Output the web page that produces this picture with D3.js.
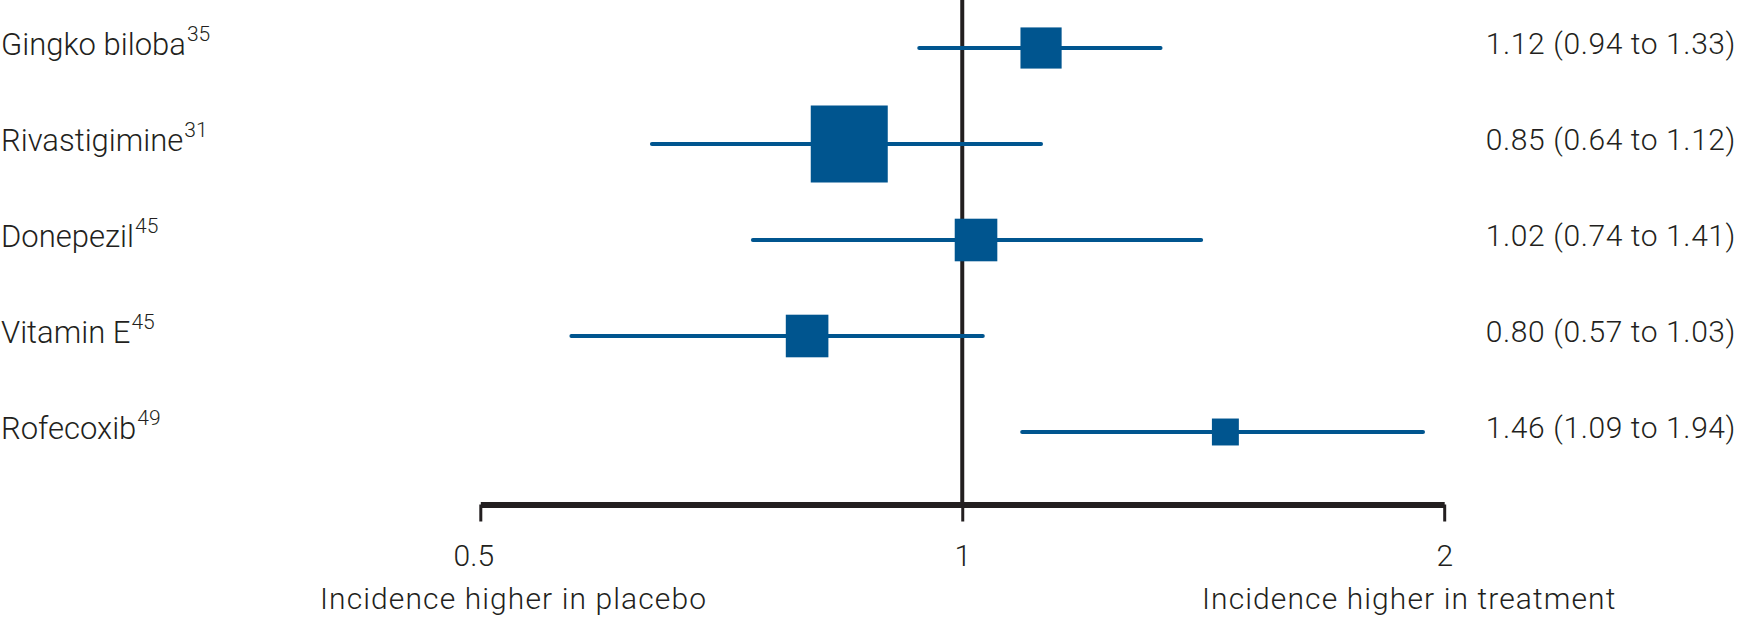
<!DOCTYPE html>
<html>
<head>
<meta charset="utf-8">
<script src="https://cdn.jsdelivr.net/npm/d3@7"></script>
<style>
  html, body { margin: 0; padding: 0; background: #fff; }
  svg { display: block; }
</style>
</head>
<body>
<svg id="chart" viewBox="0 0 1737 618" width="1737" height="618"></svg>
<script>
// data
const treatments = ["Gingko biloba", "Rivastigimine", "Donepezil", "Vitamin E", "Rofecoxib"];
const refs = ["35", "31", "45", "45", "49"];
const estimates = [1.12, 0.85, 1.02, 0.80, 1.46];
const lower = [0.94, 0.64, 0.74, 0.57, 1.09];
const upper = [1.33, 1.12, 1.41, 1.03, 1.94];
const weights = [14, 49, 15, 15, 6]; // relative weight (square area)
const tickValues = [0.5, 1, 2];
const sideLabels = ["Incidence higher in placebo", "Incidence higher in treatment"];

const rows = treatments.map((t, i) => ({
  name: t, ref: refs[i], est: estimates[i], lo: lower[i], hi: upper[i], w: weights[i]
}));

const blue = "#00558f";
const ink = "#231f20";
const labelFont = "Roboto, 'Open Sans', sans-serif";

const svg = d3.select("#chart");

const axisY = 504.5;

const xScale = d3.scaleLog().domain([0.5, 2]).range([480.3, 1444.2]);
const yScale = d3.scalePoint().domain(treatments).range([48, 432]);
const sizeScale = d3.scaleSqrt().domain([0, d3.max(weights)]).range([0, 77]);

// reference line at 1
svg.append("line")
  .attr("x1", xScale(1)).attr("x2", xScale(1))
  .attr("y1", 0).attr("y2", axisY)
  .style("stroke", ink)
  .style("stroke-width", 4);

// confidence intervals
svg.selectAll("line.ci")
  .data(rows)
  .enter()
  .append("line")
  .attr("class", "ci")
  .attr("x1", d => xScale(d.lo))
  .attr("x2", d => xScale(d.hi))
  .attr("y1", d => yScale(d.name))
  .attr("y2", d => yScale(d.name))
  .style("stroke", blue)
  .style("stroke-width", 4)
  .style("stroke-linecap", "round");

// point estimates
svg.selectAll("rect.est")
  .data(rows)
  .enter()
  .append("rect")
  .attr("class", "est")
  .attr("x", d => xScale(d.est) - sizeScale(d.w) / 2)
  .attr("y", d => yScale(d.name) - sizeScale(d.w) / 2)
  .attr("width", d => sizeScale(d.w))
  .attr("height", d => sizeScale(d.w))
  .attr("fill", blue);

// left labels with superscript refs
const names = svg.selectAll("text.name")
  .data(rows)
  .enter()
  .append("text")
  .attr("class", "name")
  .attr("x", 1)
  .attr("y", d => yScale(d.name) + 7)
  .style("font-family", labelFont)
  .style("font-weight", 300)
  .style("font-size", "31px")
  .style("fill", ink);

names.append("tspan").text(d => d.name);
names.append("tspan")
  .attr("dx", 1)
  .attr("dy", -14)
  .style("font-size", "21px")
  .text(d => d.ref);

// right labels
const fmt = d3.format(".2f");
svg.selectAll("text.stat")
  .data(rows)
  .enter()
  .append("text")
  .attr("class", "stat")
  .attr("x", 1736)
  .attr("y", d => yScale(d.name) + 6)
  .style("text-anchor", "end")
  .style("font-family", labelFont)
  .style("font-weight", 300)
  .style("font-size", "30px")
  .style("letter-spacing", "0.6px")
  .style("fill", ink)
  .text(d => `${fmt(d.est)} (${fmt(d.lo)} to ${fmt(d.hi)})`);

// x axis
const xAxis = d3.axisBottom(xScale)
  .tickValues(tickValues)
  .tickFormat(d => d)
  .tickSizeOuter(0)
  .tickSizeInner(17);

const xAxisG = svg.append("g")
  .attr("class", "xAxisG")
  .attr("transform", `translate(0 ${axisY})`)
  .call(xAxis);

xAxisG.select("path.domain")
  .style("stroke", ink)
  .style("stroke-width", 6);
xAxisG.selectAll("line")
  .style("stroke", ink)
  .style("stroke-width", 3);
xAxisG.selectAll("text")
  .attr("y", 61.5)
  .attr("dy", null)
  .attr("dx", (d, i) => (i === 0 ? -7 : 0))
  .style("font-family", labelFont)
  .style("font-weight", 300)
  .style("font-size", "30px")
  .style("fill", ink);

// side captions
svg.selectAll("text.side")
  .data(sideLabels)
  .enter()
  .append("text")
  .attr("class", "side")
  .attr("x", (d, i) => (i === 0 ? 320 : 1202))
  .attr("y", 609)
  .style("font-family", labelFont)
  .style("font-weight", 300)
  .style("font-size", "30px")
  .style("letter-spacing", "1.1px")
  .style("fill", ink)
  .text(d => d);
</script>
</body>
</html>
